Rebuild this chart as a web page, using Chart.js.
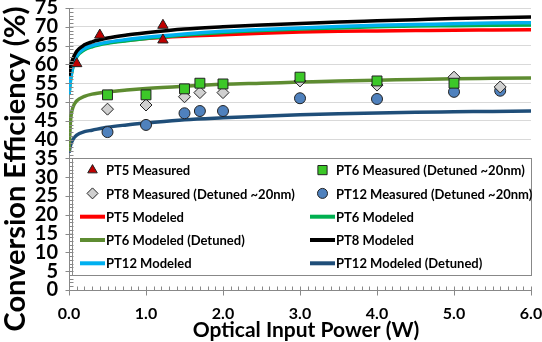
<!DOCTYPE html>
<html>
<head>
<meta charset="utf-8">
<script src="https://cdn.jsdelivr.net/npm/chart.js@4.4.1/dist/chart.umd.min.js"></script>
<style>
  html, body { margin: 0; padding: 0; background: #fff; }
</style>
</head>
<body>
<canvas id="chart" width="542" height="342"></canvas>
<script>
"use strict";
// measured points
const pt5MeasX = [0.10, 0.40, 1.22, 1.22];
const pt5MeasY = [60.2, 67.8, 70.4, 66.5];
const pt6MeasX = [0.5, 1.0, 1.5, 1.7, 2.0, 3.0, 4.0, 5.0];
const pt6MeasY = [51.9, 51.9, 53.5, 55.0, 54.8, 56.6, 55.6, 55.0];
const pt8MeasX = [0.5, 1.0, 1.5, 1.7, 2.0, 3.0, 4.0, 5.0, 5.6];
const pt8MeasY = [48.1, 49.2, 51.4, 52.5, 52.5, 55.6, 54.5, 56.6, 54.0];
const pt12MeasX = [0.5, 1.0, 1.5, 1.7, 2.0, 3.0, 4.0, 5.0, 5.6];
const pt12MeasY = [42.0, 43.9, 47.0, 47.6, 47.6, 51.0, 50.8, 52.7, 53.0];

// modeled curves
const xModel = [0, 0.02, 0.05, 0.1, 0.2, 0.3, 0.5, 0.75, 1, 1.5, 2, 2.5, 3, 3.5, 4, 4.5, 5, 5.5, 6];
const pt5Model = [55, 58, 60.5, 62.5, 64.2, 65, 65.8, 66.4, 66.9, 67.5, 67.9, 68.3, 68.6, 68.8, 68.9, 69, 69.1, 69.15, 69.2];
const pt6Model = [52, 55.8, 59.2, 62, 63.9, 64.7, 65.6, 66.3, 66.9, 67.8, 68.5, 69, 69.4, 69.7, 70, 70.2, 70.3, 70.4, 70.5];
const pt6Detuned = [37, 45, 48.5, 50.3, 51.5, 52.1, 52.7, 53.2, 53.6, 54.2, 54.7, 55, 55.3, 55.6, 55.8, 56, 56.2, 56.3, 56.4];
const pt8Model = [57, 59.5, 61.5, 63.5, 65.2, 66, 67, 67.8, 68.4, 69.4, 70, 70.5, 70.9, 71.3, 71.6, 71.9, 72.2, 72.4, 72.6];
const pt12Model = [52, 56, 59.5, 62.3, 64.2, 65, 65.9, 66.6, 67.2, 68.1, 68.8, 69.3, 69.7, 70.1, 70.4, 70.6, 70.8, 71, 71.1];
const pt12Detuned = [36.5, 38.5, 40, 41.2, 42.1, 42.5, 43.3, 43.9, 44.4, 45.3, 45.8, 46.2, 46.6, 46.9, 47.1, 47.3, 47.4, 47.5, 47.6];

const FONT = 'Lato, "Open Sans", sans-serif';

function pts(xs, ys) {
    return xs.map((x, i) => ({ x: x, y: ys[i] }));
}

function measured(label, xs, ys, style, fill, radius) {
    return {
        label: label, data: pts(xs, ys), showLine: false, order: 0,
        pointStyle: style, pointRadius: radius, pointBackgroundColor: fill,
        pointBorderColor: '#222', pointBorderWidth: 1, pointHoverRadius: radius
    };
}

function modeled(label, ys, color, order) {
    return {
        label: label, data: pts(xModel, ys), showLine: true, order: order,
        borderColor: color, backgroundColor: color, borderWidth: 3.5,
        pointRadius: 0, pointHoverRadius: 0, cubicInterpolationMode: 'monotone'
    };
}

const datasets = [
    measured('PT5 Measured', pt5MeasX, pt5MeasY, 'triangle', '#c00000', 6),
    measured('PT6 Measured (Detuned ~20nm)', pt6MeasX, pt6MeasY, 'rect', '#3cc828', 7),
    measured('PT8 Measured (Detuned ~20nm)', pt8MeasX, pt8MeasY, 'rectRot', '#d0d0d0', 6),
    measured('PT12 Measured (Detuned ~20nm)', pt12MeasX, pt12MeasY, 'circle', '#4f81bd', 5.5),
    modeled('PT5 Modeled', pt5Model, '#ff0000', 4),
    modeled('PT6 Modeled', pt6Model, '#00b050', 3),
    modeled('PT6 Modeled (Detuned)', pt6Detuned, '#5e8c31', 5),
    modeled('PT8 Modeled', pt8Model, '#000000', 1),
    modeled('PT12 Modeled', pt12Model, '#00b0f0', 2),
    modeled('PT12 Modeled (Detuned)', pt12Detuned, '#1f4e79', 6)
];

// legend box inside the plot area
const insideLegend = {
    id: 'insideLegend',
    beforeDatasetsDraw(chart) {
        const ctx = chart.ctx;
        const xs = chart.scales.x, ys = chart.scales.y;
        const left = xs.getPixelForValue(0.04), right = xs.getPixelForValue(6);
        const top = ys.getPixelForValue(35), bottom = ys.getPixelForValue(4);
        ctx.save();
        ctx.fillStyle = '#fff';
        ctx.fillRect(left, top, right - left, bottom - top);
        ctx.strokeStyle = '#888';
        ctx.lineWidth = 1;
        ctx.strokeRect(Math.round(left) + 0.5, Math.round(top) + 0.5, Math.round(right - left), Math.round(bottom - top));
        ctx.restore();
    },
    afterDraw(chart) {
        const ctx = chart.ctx;
        const ys = chart.scales.y;
        const top = ys.getPixelForValue(35);
        const colX = [80, 310];
        ctx.save();
        ctx.font = 'bold 13px ' + FONT;
        ctx.textBaseline = 'middle';
        ctx.textAlign = 'left';
        chart.data.datasets.forEach((ds, i) => {
            const x0 = colX[i % 2];
            const y = top + 11.7 + Math.floor(i / 2) * 23.3;
            if (ds.showLine) {
                ctx.strokeStyle = ds.borderColor;
                ctx.lineWidth = 4;
                ctx.beginPath();
                ctx.moveTo(x0, y);
                ctx.lineTo(x0 + 25, y);
                ctx.stroke();
            } else {
                ctx.fillStyle = ds.pointBackgroundColor;
                ctx.strokeStyle = ds.pointBorderColor;
                ctx.lineWidth = 1;
                Chart.helpers.drawPoint(ctx, { pointStyle: ds.pointStyle, radius: ds.pointRadius - 0.5, rotation: 0, borderWidth: 1 }, x0 + 12.5, y);
            }
            ctx.fillStyle = '#000';
            ctx.fillText(ds.label, x0 + 26, y + 1);
        });
        ctx.restore();
    }
};

// minor tick marks and axis titles
const axisExtras = {
    id: 'axisExtras',
    afterDraw(chart) {
        const ctx = chart.ctx;
        const xs = chart.scales.x, ys = chart.scales.y;
        const x0 = Math.round(xs.getPixelForValue(0)) + 0.5;
        const y0 = Math.round(ys.getPixelForValue(0)) + 0.5;
        ctx.save();
        ctx.strokeStyle = '#888';
        ctx.lineWidth = 1;
        ctx.beginPath();
        for (let v = 0; v <= 75; v++) {
            const y = Math.round(ys.getPixelForValue(v)) + 0.5;
            ctx.moveTo(x0 - (v % 5 === 0 ? 4 : 0), y);
            ctx.lineTo(x0 + 4, y);
        }
        for (let k = 0; k <= 60; k++) {
            const x = Math.round(xs.getPixelForValue(k / 10)) + 0.5;
            ctx.moveTo(x, y0 + (k % 10 === 0 ? 5 : 0));
            ctx.lineTo(x, y0 - 4);
        }
        ctx.stroke();
        ctx.fillStyle = '#000';
        ctx.textAlign = 'center';
        ctx.textBaseline = 'middle';
        ctx.font = 'bold 21px ' + FONT;
        ctx.fillText('Optical Input Power (W)', 306, 330);
        ctx.translate(16, 169);
        ctx.rotate(-Math.PI / 2);
        ctx.font = 'bold 29px ' + FONT;
        ctx.fillText('Conversion Efficiency (%)', 0, 0);
        ctx.restore();
    }
};

new Chart(document.getElementById('chart'), {
    type: 'scatter',
    data: { datasets: datasets },
    options: {
        responsive: false,
        animation: false,
        layout: { padding: { top: 8, right: 11, left: 0, bottom: 0 } },
        plugins: { legend: { display: false }, tooltip: { enabled: false } },
        scales: {
            x: {
                type: 'linear', min: 0, max: 6,
                ticks: {
                    stepSize: 1, padding: 14, color: '#000', autoSkip: false, maxRotation: 0,
                    font: { family: FONT, size: 16, weight: 'bold' },
                    callback: (v) => Number(v).toFixed(1)
                },
                grid: { display: false, drawTicks: false },
                border: { color: '#888' },
                afterFit: (s) => { s.height = 52; s.paddingLeft = 0; s.paddingRight = 0; }
            },
            y: {
                min: 0, max: 75,
                ticks: {
                    stepSize: 5, padding: 11, color: '#000', autoSkip: false,
                    font: { family: FONT, size: 20, weight: 'bold' }
                },
                grid: { color: '#d9d9d9', drawTicks: false },
                border: { color: '#888' },
                afterFit: (s) => { s.width = 69; s.paddingTop = 0; s.paddingBottom = 0; }
            }
        }
    },
    plugins: [insideLegend, axisExtras]
});
</script>
</body>
</html>
